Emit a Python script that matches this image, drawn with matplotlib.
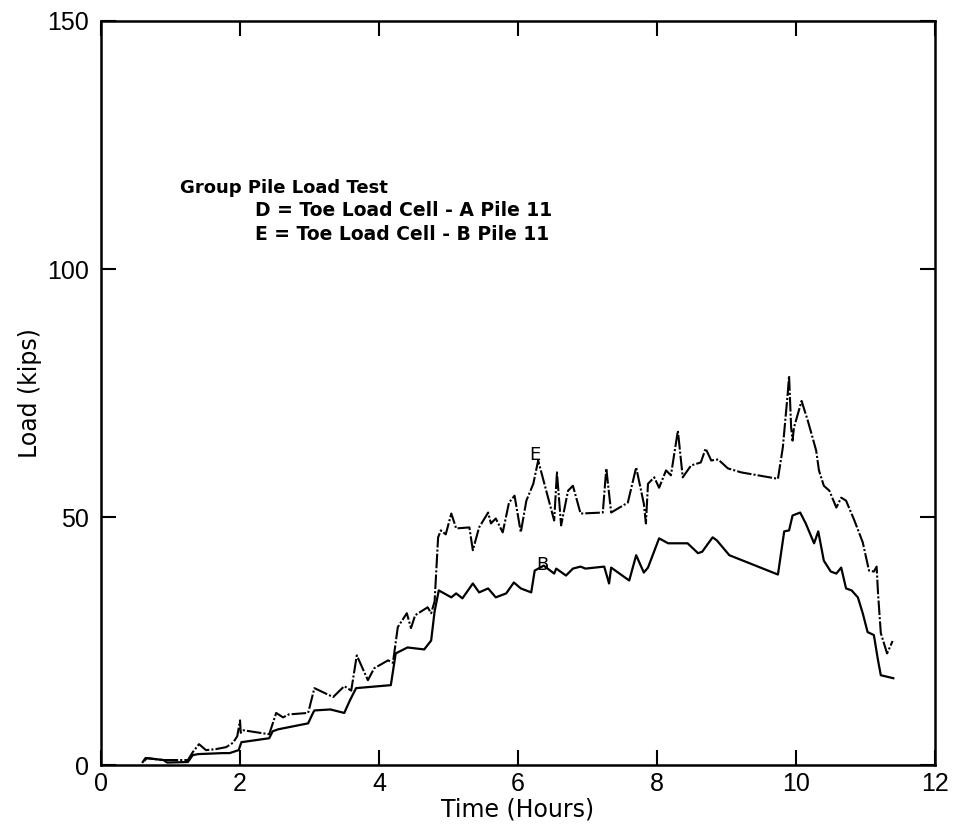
import numpy as np
import matplotlib
matplotlib.use("Agg")
import matplotlib.pyplot as plt

# Toe load cell B (solid trace)
time_b = [0.60, 0.64, 0.90, 0.95, 1.25, 1.32, 1.40, 1.75, 1.85, 1.98, 2.02, 2.42, 2.47, 2.55,
          2.98, 3.05, 3.07, 3.30, 3.50, 3.58, 3.67, 4.17, 4.24, 4.41, 4.65, 4.75, 4.80, 4.86,
          5.04, 5.11, 5.20, 5.35, 5.44, 5.57, 5.68, 5.83, 5.94, 6.04, 6.19, 6.24, 6.37, 6.52,
          6.55, 6.69, 6.79, 6.90, 6.97, 7.24, 7.31, 7.34, 7.60, 7.70, 7.81, 7.87, 8.03, 8.16,
          8.44, 8.59, 8.65, 8.80, 8.86, 9.04, 9.74, 9.83, 9.90, 9.95, 10.06, 10.14, 10.26,
          10.32, 10.40, 10.50, 10.58, 10.65, 10.72, 10.80, 10.89, 10.96, 11.03, 11.12, 11.18,
          11.22, 11.40]
load_b = [0.6, 1.4, 1.0, 0.5, 0.6, 2.0, 2.2, 2.4, 2.4, 3.0, 4.6, 5.4, 6.8, 7.2,
          8.4, 10.5, 11.0, 11.2, 10.5, 13.0, 15.5, 16.1, 22.5, 23.7, 23.3, 25.1, 31.0, 35.2,
          33.8, 34.6, 33.6, 36.6, 34.8, 35.6, 33.8, 34.6, 36.8, 35.6, 34.8, 39.2, 40.2, 38.6,
          39.6, 38.2, 39.6, 40.0, 39.6, 40.0, 36.6, 39.8, 37.2, 42.3, 38.8, 39.8, 45.7, 44.7,
          44.7, 42.7, 43.0, 45.9, 45.3, 42.3, 38.4, 47.1, 47.3, 50.3, 50.9, 48.7, 44.7,
          47.1, 41.2, 39.0, 38.6, 39.8, 35.6, 35.2, 33.8, 30.6, 26.8, 26.2, 21.1,
          18.1, 17.5]

# Toe load cell E (dash-dot trace)
time_e = [0.62, 0.66, 0.90, 1.00, 1.25, 1.32, 1.41, 1.51, 1.65, 1.80, 1.90, 1.96, 2.00, 2.01,
          2.05, 2.42, 2.52, 2.62, 2.70, 2.98, 3.07, 3.34, 3.50, 3.60, 3.68, 3.84, 3.93, 4.13,
          4.20, 4.27, 4.40, 4.46, 4.52, 4.70, 4.75, 4.80, 4.85, 4.89, 4.96, 5.04, 5.11, 5.30,
          5.35, 5.44, 5.57, 5.61, 5.68, 5.78, 5.87, 5.95, 6.04, 6.12, 6.22, 6.29, 6.52, 6.56,
          6.62, 6.72, 6.79, 6.90, 7.22, 7.27, 7.34, 7.58, 7.70, 7.81, 7.84, 7.87, 7.96, 8.03,
          8.13, 8.20, 8.30, 8.37, 8.49, 8.63, 8.70, 8.78, 8.88, 9.02, 9.21, 9.74, 9.81, 9.88,
          9.90, 9.93, 9.95, 9.97, 10.08, 10.17, 10.29, 10.33, 10.40, 10.48, 10.58, 10.65,
          10.72, 10.84, 10.96, 11.05, 11.12, 11.16, 11.18, 11.22, 11.31, 11.39]
load_e = [0.8, 1.4, 1.0, 1.0, 1.0, 2.6, 4.2, 3.0, 3.2, 3.6, 4.5, 5.8, 9.0, 6.5,
          7.0, 6.2, 10.5, 9.6, 10.2, 10.5, 15.5, 13.7, 15.9, 15.0, 22.1, 17.1, 19.5, 21.1,
          20.6, 27.8, 30.6, 27.6, 30.2, 31.8, 30.6, 33.0, 45.9, 47.3, 46.5, 50.7, 47.7, 47.9,
          43.3, 47.9, 50.9, 48.7, 49.7, 46.9, 52.9, 54.3, 46.9, 53.3, 56.7, 61.4, 49.3, 59.0,
          48.3, 55.3, 56.3, 50.7, 50.9, 59.8, 50.9, 52.9, 60.0, 52.7, 48.7, 56.7, 58.0, 55.9,
          59.4, 58.4, 67.4, 58.0, 60.4, 61.0, 63.8, 61.4, 61.6, 59.8, 59.0, 57.7, 64.0, 74.8,
          78.5, 68.0, 65.4, 68.0, 73.4, 69.4, 63.4, 59.4, 56.3, 55.3, 51.9, 53.9,
          53.3, 49.3, 44.9, 39.2, 39.0, 40.0, 34.6, 26.6, 22.5, 25.0]

legend_lines = ["Group Pile Load Test",
                "D = Toe Load Cell - A Pile 11",
                "E = Toe Load Cell - B Pile 11"]

fig = plt.figure(figsize=(9.54, 8.30), dpi=100)
ax = fig.add_axes([0.1059, 0.0783, 0.8742, 0.8964])

ax.plot(time_b, load_b, color="k", lw=1.6)
ax.plot(time_e, load_e, color="k", lw=1.5, linestyle=(0, (7, 1, 1, 1)))

ax.text(6.24, 62.5, "E", ha="center", va="center", fontsize=13)
ax.text(6.35, 40.3, "B", ha="center", va="center", fontsize=13)

# header block
ax.text(1.14, 116.3, legend_lines[0], fontsize=13, fontweight="bold", va="center")
ax.text(2.22, 111.7, legend_lines[1], fontsize=13.5, fontweight="bold", va="center")
ax.text(2.22, 107.0, legend_lines[2], fontsize=13.5, fontweight="bold", va="center")

ax.set_xlim(0, 12)
ax.set_ylim(0, 150)
ax.set_xticks(np.arange(0, 13, 2))
ax.set_yticks([0, 50, 100, 150])
ax.tick_params(direction="in", length=11, width=1.5, top=True, right=True, labelsize=18)
ax.tick_params(axis="x", pad=5)
ax.tick_params(axis="y", pad=9)
for lab in ax.get_xticklabels() + ax.get_yticklabels():
    lab.set_family("Liberation Sans")
for s in ax.spines.values():
    s.set_linewidth(1.8)

ax.set_xlabel("Time (Hours)", fontsize=17, labelpad=1)
ax.set_ylabel("Load (kips)", fontsize=17, labelpad=3)

plt.savefig("out.png", dpi=100)
